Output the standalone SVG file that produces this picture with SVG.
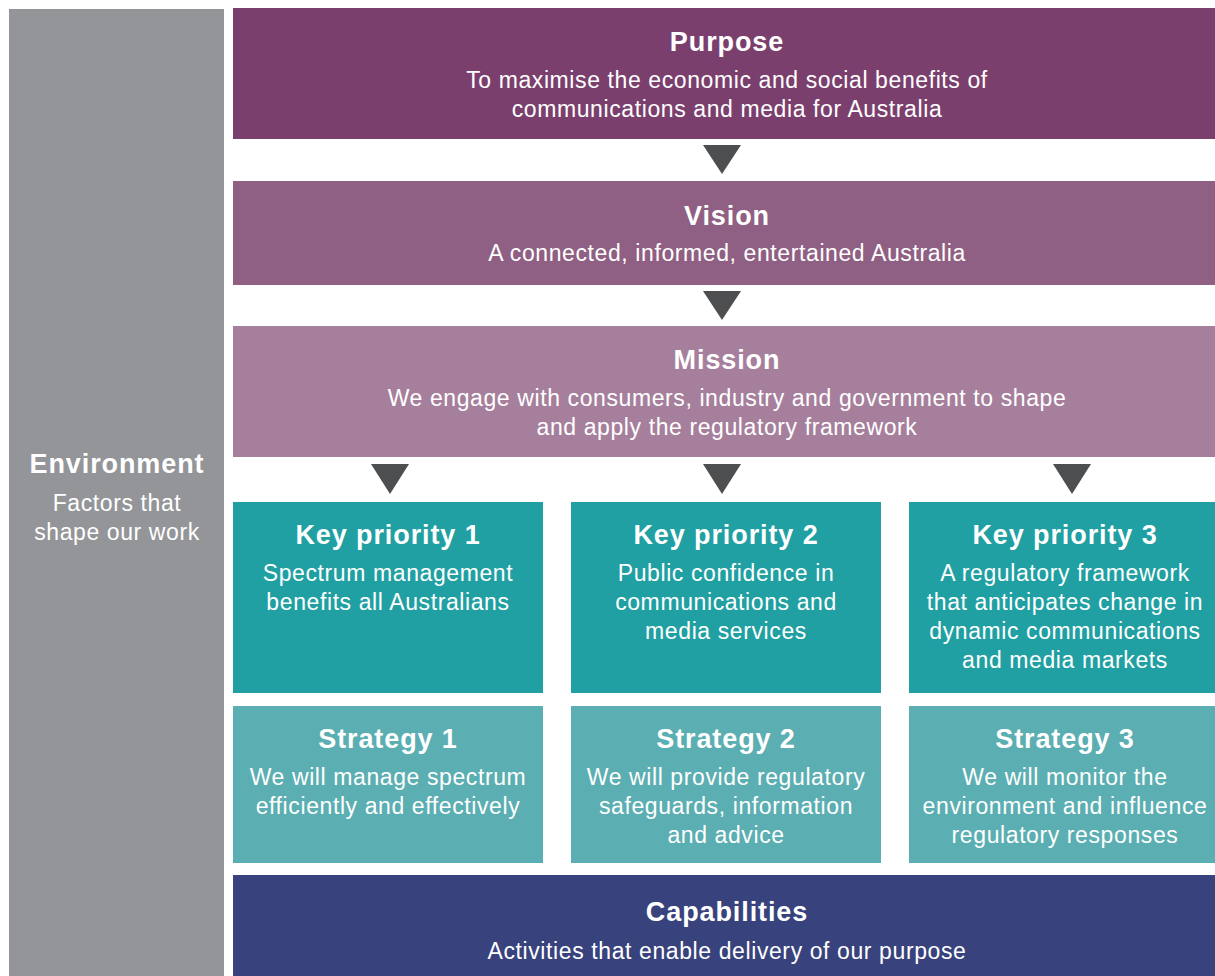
<svg xmlns="http://www.w3.org/2000/svg" width="1215" height="976" viewBox="0 0 1215 976">
  <defs>
    <style>
      text { font-family: "Liberation Sans", Arial, sans-serif; fill: #ffffff; text-anchor: middle; }
      .title { font-size: 27px; font-weight: bold; letter-spacing: 0.9px; }
      .body { font-size: 23px; letter-spacing: 0.6px; }
      .arrow { fill: #4d4e50; }
    </style>
  </defs>
  <rect width="1215" height="976" fill="#ffffff"/>

  <g id="environment">
    <rect x="9" y="9" width="215" height="967" fill="#939598"/>
    <text class="title" x="117" y="473">Environment</text>
    <text class="body" x="117" y="511">Factors that</text>
    <text class="body" x="117" y="540">shape our work</text>
  </g>

  <g id="purpose">
    <rect x="233" y="8" width="982" height="131" fill="#7b3f6e"/>
    <text class="title" x="727" y="51">Purpose</text>
    <text class="body" x="727" y="88">To maximise the economic and social benefits of</text>
    <text class="body" x="727" y="117">communications and media for Australia</text>
  </g>

  <g id="vision">
    <rect x="233" y="181" width="982" height="104" fill="#8f6083"/>
    <text class="title" x="727" y="225">Vision</text>
    <text class="body" x="727" y="261">A connected, informed, entertained Australia</text>
  </g>

  <g id="mission">
    <rect x="233" y="326" width="982" height="131" fill="#a67f9d"/>
    <text class="title" x="727" y="369">Mission</text>
    <text class="body" x="727" y="406">We engage with consumers, industry and government to shape</text>
    <text class="body" x="727" y="435">and apply the regulatory framework</text>
  </g>

  <g id="key-priority-1">
    <rect x="233" y="502" width="310" height="191" fill="#20a0a2"/>
    <text class="title" x="388" y="544">Key priority 1</text>
    <text class="body" x="388" y="581">Spectrum management</text>
    <text class="body" x="388" y="610">benefits all Australians</text>
  </g>

  <g id="key-priority-2">
    <rect x="571" y="502" width="310" height="191" fill="#20a0a2"/>
    <text class="title" x="726" y="544">Key priority 2</text>
    <text class="body" x="726" y="581">Public confidence in</text>
    <text class="body" x="726" y="610">communications and</text>
    <text class="body" x="726" y="639">media services</text>
  </g>

  <g id="key-priority-3">
    <rect x="909" y="502" width="310" height="191" fill="#20a0a2"/>
    <text class="title" x="1065" y="544">Key priority 3</text>
    <text class="body" x="1065" y="581">A regulatory framework</text>
    <text class="body" x="1065" y="610">that anticipates change in</text>
    <text class="body" x="1065" y="639">dynamic communications</text>
    <text class="body" x="1065" y="668">and media markets</text>
  </g>

  <g id="strategy-1">
    <rect x="233" y="706" width="310" height="157" fill="#5baeb1"/>
    <text class="title" x="388" y="748">Strategy 1</text>
    <text class="body" x="388" y="785">We will manage spectrum</text>
    <text class="body" x="388" y="814">efficiently and effectively</text>
  </g>

  <g id="strategy-2">
    <rect x="571" y="706" width="310" height="157" fill="#5baeb1"/>
    <text class="title" x="726" y="748">Strategy 2</text>
    <text class="body" x="726" y="785">We will provide regulatory</text>
    <text class="body" x="726" y="814">safeguards, information</text>
    <text class="body" x="726" y="843">and advice</text>
  </g>

  <g id="strategy-3">
    <rect x="909" y="706" width="310" height="157" fill="#5baeb1"/>
    <text class="title" x="1065" y="748">Strategy 3</text>
    <text class="body" x="1065" y="785">We will monitor the</text>
    <text class="body" x="1065" y="814">environment and influence</text>
    <text class="body" x="1065" y="843">regulatory responses</text>
  </g>

  <g id="capabilities">
    <rect x="233" y="875" width="982" height="101" fill="#38427c"/>
    <text class="title" x="727" y="921">Capabilities</text>
    <text class="body" x="727" y="959">Activities that enable delivery of our purpose</text>
  </g>

  <g id="connectors">
    <polygon class="arrow" points="703,145 741,145 722,174"/>
    <polygon class="arrow" points="703,291 741,291 722,320"/>
    <polygon class="arrow" points="371,464 409,464 390,494"/>
    <polygon class="arrow" points="703,464 741,464 722,494"/>
    <polygon class="arrow" points="1053,464 1091,464 1072,494"/>
  </g>
</svg>
